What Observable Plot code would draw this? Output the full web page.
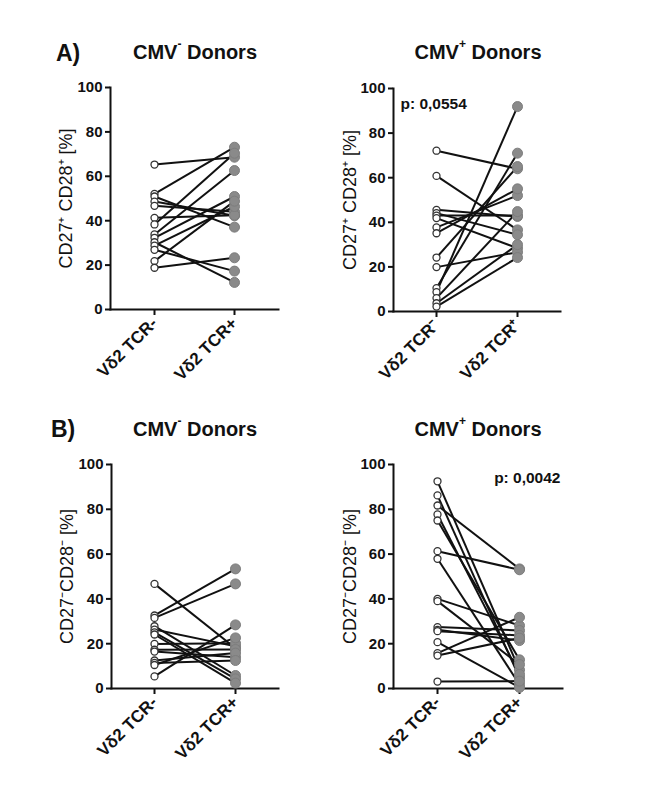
<!DOCTYPE html>
<html><head><meta charset="utf-8">
<script src="https://cdn.jsdelivr.net/npm/d3@7"></script>
<script src="https://cdn.jsdelivr.net/npm/@observablehq/plot@0.6"></script>
<style>
body{margin:0;background:#fff;font-family:"Liberation Sans",Arial,sans-serif;}
#wrap{position:relative;width:661px;height:797px;overflow:hidden;}
.t{position:absolute;font-weight:bold;color:#111;white-space:nowrap;line-height:1.15;}
.t sup{font-size:12px;position:relative;top:-3px;vertical-align:top;}
.panel{position:absolute;}
</style></head>
<body><div id="wrap"></div>
<script>
// ---- data ----
const catsPlain = ["Vδ2 TCR-", "Vδ2 TCR+"];
const catsSup = ["Vδ2 TCR⁻", "Vδ2 TCR⁺"];
const yTicks = [0, 20, 40, 60, 80, 100];

const aNegBefore = [65.3, 52.1, 50.9, 48.6, 46.7, 41.3, 38.3, 33.8, 32.3, 30.3, 28.8, 26.9, 21.8, 18.8];
const aNegAfter  = [68.6, 73.1, 37.1, 42.2, 44.0, 42.5, 70.4, 62.6, 50.9, 12.2, 46.4, 17.3, 48.8, 23.3];

const aPosBefore = [72.1, 60.8, 45.6, 44.1, 43.0, 41.9, 37.7, 35.1, 24.2, 19.9, 10.5, 8.7, 6.0, 3.7, 2.2];
const aPosAfter  = [64.0, 36.6, 42.6, 34.4, 43.0, 28.4, 52.0, 55.0, 65.0, 26.6, 71.0, 91.9, 44.8, 30.0, 24.2];

const bNegBefore = [46.7, 32.6, 31.5, 27.8, 26.3, 25.1, 24.1, 19.9, 17.3, 16.5, 12.5, 11.4, 10.5, 5.4];
const bNegAfter  = [18.0, 53.4, 46.7, 5.8, 18.8, 4.3, 2.4, 20.2, 17.4, 14.0, 15.8, 12.5, 22.6, 28.4];

const bPosBefore = [92.5, 86.2, 81.7, 77.7, 75.0, 61.3, 57.9, 40.0, 39.0, 27.4, 26.2, 25.6, 20.7, 15.8, 14.7, 3.1];
const bPosAfter  = [8.3, 4.8, 53.4, 6.3, 12.8, 53.0, 1.8, 28.1, 10.7, 25.9, 21.4, 23.7, 0.5, 31.8, 22.5, 3.3];

const labelA = "CD27⁺ CD28⁺ [%]";
const labelB = "CD27⁻CD28⁻ [%]";

// ---- layout ----
const wrap = document.getElementById("wrap");
function addText(html, x, y, size, align) {
  const d = document.createElement("div");
  d.className = "t";
  d.innerHTML = html;
  d.style.fontSize = size + "px";
  d.style.top = y + "px";
  d.style.left = x + "px";
  if (align === "center") d.style.transform = "translateX(-50%)";
  wrap.appendChild(d);
}

function panel(o) {
  const rows = o.before.map((b, i) => ({b, a: o.after[i]}));
  const c = o.cats;
  const marks = [
    Plot.frame({anchor: "left", strokeWidth: 2, stroke: "#111"}),
    Plot.frame({anchor: "bottom", strokeWidth: 2, stroke: "#111"}),
    Plot.axisY({ticks: yTicks, tickSize: 5, strokeWidth: 2, tickPadding: 3, fontSize: 15, fontWeight: "bold", label: null}),
    Plot.axisX({tickSize: 6, strokeWidth: 2, tickRotate: -45, tickPadding: 5, fontSize: 17, fontWeight: "bold", label: null}),
    Plot.link(rows, {x1: () => c[0], x2: () => c[1], y1: "b", y2: "a", stroke: "#111", strokeWidth: 2}),
    Plot.dot(rows, {x: () => c[1], y: "a", r: 5, fill: "#8a8a8a", stroke: "#7d7d7d", strokeWidth: 1}),
    Plot.dot(rows, {x: () => c[0], y: "b", r: 3.5, fill: "white", stroke: "#333", strokeWidth: 1.3}),
    Plot.text([o.ylabel], {frameAnchor: "left", dx: o.labelDx, rotate: -90, text: d => d, textAnchor: "middle",
      fontSize: 18, fontWeight: "normal", fill: "#111", style: "letter-spacing:0.6px"})
  ];
  if (o.pval) marks.push(Plot.text([o.pval], {frameAnchor: o.pAnchor, dx: o.pDx, dy: o.pDy, text: d => d,
    fontSize: 15.5, fontWeight: "bold", fill: "#111", lineAnchor: "top",
    textAnchor: o.pAnchor === "top-right" ? "end" : "start"}));
  const svg = Plot.plot({
    width: o.width, height: o.height,
    marginLeft: o.ml, marginRight: o.mr, marginTop: o.mt, marginBottom: o.mb,
    style: {fontFamily: "'Liberation Sans', Arial, sans-serif", fontWeight: "bold", color: "#111", background: "transparent", overflow: "visible"},
    x: {type: "point", domain: c, padding: o.pad},
    y: {domain: [0, 100]},
    marks
  });
  svg.classList.add("panel");
  svg.style.left = o.left + "px";
  svg.style.top = o.top + "px";
  wrap.appendChild(svg);
}

panel({left: 0, top: 70, width: 300, height: 330, ml: 110, mr: 22, mt: 17, mb: 91, pad: 0.54,
  cats: catsPlain, before: aNegBefore, after: aNegAfter, ylabel: labelA, labelDx: -44});
panel({left: 330, top: 70, width: 300, height: 330, ml: 63, mr: 70, mt: 18, mb: 89, pad: 0.52,
  cats: catsSup, before: aPosBefore, after: aPosAfter, ylabel: labelA, labelDx: -43,
  pval: "p: 0,0554", pAnchor: "top-left", pDx: 7, pDy: 9});
panel({left: 0, top: 447, width: 300, height: 330, ml: 111, mr: 22, mt: 17, mb: 89, pad: 0.52,
  cats: catsPlain, before: bNegBefore, after: bNegAfter, ylabel: labelB, labelDx: -44});
panel({left: 330, top: 447, width: 300, height: 330, ml: 63, mr: 68, mt: 17, mb: 89, pad: 0.52,
  cats: catsPlain, before: bPosBefore, after: bPosAfter, ylabel: labelB, labelDx: -43,
  pval: "p: 0,0042", pAnchor: "top-right", pDx: -2, pDy: 7});

addText("A)", 56, 40, 23);
addText("CMV<sup>-</sup> Donors", 195, 41, 20, "center");
addText("CMV<sup>+</sup> Donors", 478, 41, 20, "center");
addText("B)", 51, 416, 23);
addText("CMV<sup>-</sup> Donors", 195, 418, 20, "center");
addText("CMV<sup>+</sup> Donors", 478, 418, 20, "center");
</script></body></html>
